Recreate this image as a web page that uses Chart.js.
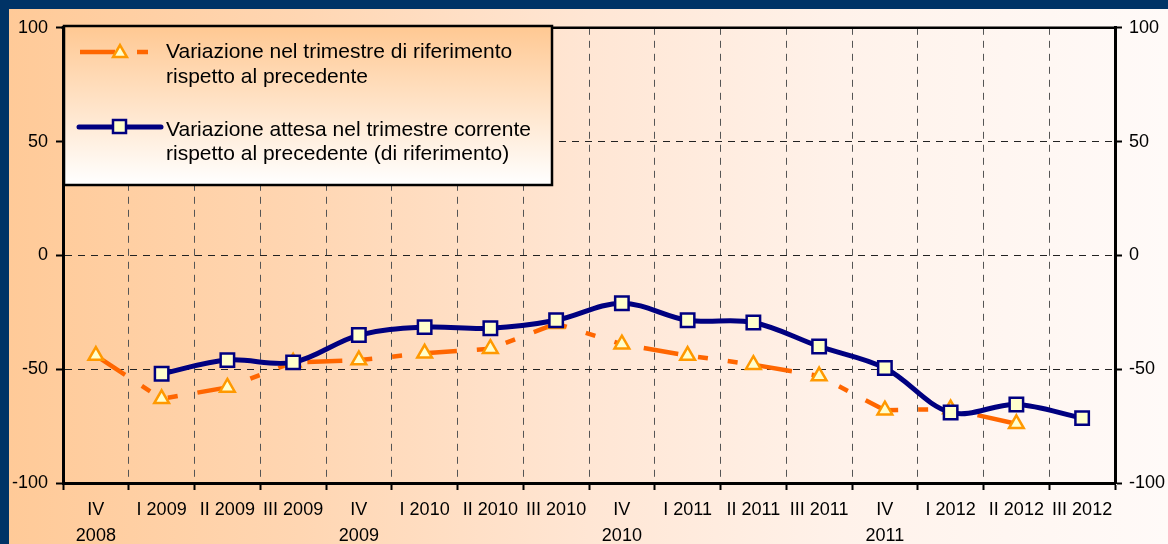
<!DOCTYPE html>
<html lang="it">
<head>
<meta charset="utf-8">
<title>Variazione trimestrale</title>
<script src="https://cdn.jsdelivr.net/npm/chart.js@4.4.1/dist/chart.umd.min.js"></script>
<style>
    html, body { margin: 0; padding: 0; background: #003366; overflow: hidden; }
    .frame {
        position: absolute; left: 9px; top: 9px; width: 1159px; height: 535px;
        background: linear-gradient(to right, #ffca98 0%, #ffd6b2 25%, #ffe6d4 50%, #fff2ea 72%, #fffaf8 100%);
    }
    canvas { display: block; }
</style>
</head>
<body>
<div class="frame"><canvas id="chart" width="1159" height="535"></canvas></div>
<script>
const quarters = [['IV', '2008'], 'I 2009', 'II 2009', 'III 2009', ['IV', '2009'], 'I 2010', 'II 2010', 'III 2010',
    ['IV', '2010'], 'I 2011', 'II 2011', 'III 2011', ['IV', '2011'], 'I 2012', 'II 2012', 'III 2012'];

// Variazione nel trimestre di riferimento (arancione, tratteggiata)
const variazioneRiferimento = [-44, -63, -58, -47, -46, -43, -41, -30, -39, -44, -48, -53, -68, -67.5, -74, null];

// Variazione attesa nel trimestre corrente (blu)
const variazioneAttesa = [null, -52, -46, -47, -35, -31.5, -32, -28.5, -21, -28.5, -29.5, -40, -49.5, -69, -65.5, -71.5];

const yTickValues = [-100, -50, 0, 50, 100];

const legendRiferimento = ['Variazione nel trimestre di riferimento', 'rispetto al precedente'];
const legendAttesa = ['Variazione attesa nel trimestre corrente', 'rispetto al precedente (di riferimento)'];

// plot area inside the canvas
const PLOT = { left: 54, right: 1106, top: 18, bottom: 474 };

Chart.defaults.font.family = "'Liberation Sans', Arial, sans-serif";
Chart.defaults.font.size = 18;
Chart.defaults.color = '#000';

function drawTriangle(ctx, x, y, r) {
    const c = Math.cos(Math.PI / 6) * r;
    ctx.beginPath();
    ctx.moveTo(x, y - r);
    ctx.lineTo(x + c, y + r / 2);
    ctx.lineTo(x - c, y + r / 2);
    ctx.closePath();
}

// top edge of the plot area
const topBorder = {
    id: 'topBorder',
    beforeDatasetsDraw(chart) {
        const { ctx, chartArea } = chart;
        ctx.save();
        ctx.strokeStyle = '#000';
        ctx.lineWidth = 2.5;
        ctx.beginPath();
        ctx.moveTo(chartArea.left - 1.5, chartArea.top);
        ctx.lineTo(chartArea.right + 1.5, chartArea.top);
        ctx.stroke();
        ctx.restore();
    }
};

// boxed legend in the upper left corner
const boxLegend = {
    id: 'boxLegend',
    afterDraw(chart) {
        const ctx = chart.ctx;
        const x0 = 55, y0 = 17, x1 = 543, y1 = 176;
        ctx.save();
        const g = ctx.createLinearGradient(0, y0, 0, y1);
        g.addColorStop(0, '#ffc892');
        g.addColorStop(1, '#ffffff');
        ctx.fillStyle = g;
        ctx.fillRect(x0, y0, x1 - x0, y1 - y0);
        ctx.lineWidth = 2.5;
        ctx.strokeStyle = '#000';
        ctx.strokeRect(x0, y0, x1 - x0, y1 - y0);

        // orange sample
        ctx.strokeStyle = '#ff6600';
        ctx.lineWidth = 4.5;
        ctx.beginPath();
        ctx.moveTo(71, 43); ctx.lineTo(106, 43);
        ctx.moveTo(128, 43); ctx.lineTo(139, 43);
        ctx.stroke();
        drawTriangle(ctx, 111, 44, 8);
        ctx.fillStyle = '#ffffcc';
        ctx.fill();
        ctx.strokeStyle = '#ff9900';
        ctx.lineWidth = 2.5;
        ctx.stroke();

        // blue sample
        ctx.strokeStyle = '#000080';
        ctx.lineWidth = 5;
        ctx.lineCap = 'round';
        ctx.beginPath();
        ctx.moveTo(70, 118); ctx.lineTo(152, 118);
        ctx.stroke();
        ctx.lineCap = 'butt';
        ctx.fillStyle = '#ffffcc';
        ctx.fillRect(104, 111, 13, 13);
        ctx.lineWidth = 2.5;
        ctx.strokeRect(104, 111, 13, 13);

        ctx.fillStyle = '#000';
        ctx.font = "21px 'Liberation Sans', Arial, sans-serif";
        ctx.textBaseline = 'middle';
        ctx.fillText(legendRiferimento[0], 157, 43);
        ctx.fillText(legendRiferimento[1], 157, 68);
        ctx.fillText(legendAttesa[0], 157, 121);
        ctx.fillText(legendAttesa[1], 157, 145);
        ctx.restore();
    }
};

const yAxisCommon = {
    min: -100,
    max: 100,
    afterBuildTicks: scale => { scale.ticks = yTickValues.map(v => ({ value: v })); },
    border: { display: true, color: '#000', width: 3, dash: [7, 6] }
};

new Chart(document.getElementById('chart'), {
    type: 'line',
    data: {
        labels: quarters,
        datasets: [{
            label: legendAttesa.join(' '),
            data: variazioneAttesa,
            borderColor: '#000080',
            borderWidth: 5,
            tension: 0.35,
            pointStyle: 'rect',
            pointRadius: 9.5,
            pointBackgroundColor: '#ffffcc',
            pointBorderColor: '#000080',
            pointBorderWidth: 2.5,
            order: 1
        }, {
            label: legendRiferimento.join(' '),
            data: variazioneRiferimento,
            borderColor: '#ff6600',
            borderWidth: 4.5,
            borderDash: [35, 20, 10, 20, 10, 20],
            tension: 0,
            pointStyle: 'triangle',
            pointRadius: 8.5,
            pointBackgroundColor: '#ffffcc',
            pointBorderColor: '#ff9900',
            pointBorderWidth: 2.5,
            order: 2
        }]
    },
    options: {
        responsive: false,
        animation: false,
        devicePixelRatio: 1,
        events: [],
        layout: { padding: { top: PLOT.top, left: 0, right: 0, bottom: 0 } },
        plugins: { legend: { display: false }, tooltip: { enabled: false } },
        scales: {
            x: {
                offset: true,
                grid: {
                    offset: true,
                    color: '#555',
                    lineWidth: 1,
                    tickLength: 7,
                    tickColor: '#000',
                    tickWidth: 2,
                    tickBorderDash: []
                },
                border: { display: true, color: '#000', width: 3, dash: [7, 6] },
                ticks: {
                    autoSkip: false,
                    maxRotation: 0,
                    padding: 7,
                    font: { size: 18, lineHeight: '26px' }
                },
                afterFit: scale => { scale.height = 535 - PLOT.bottom; }
            },
            y: {
                ...yAxisCommon,
                position: 'left',
                grid: {
                    color: '#222',
                    lineWidth: 1,
                    tickLength: 7,
                    tickColor: '#000',
                    tickWidth: 2,
                    tickBorderDash: []
                },
                ticks: { padding: 8, font: { size: 18 } },
                afterFit: scale => { scale.width = PLOT.left; }
            },
            y2: {
                ...yAxisCommon,
                position: 'right',
                grid: {
                    drawOnChartArea: false,
                    tickLength: 7,
                    tickColor: '#000',
                    tickWidth: 2,
                    tickBorderDash: []
                },
                ticks: { padding: 7, font: { size: 18 } },
                afterFit: scale => { scale.width = 1159 - PLOT.right; }
            }
        }
    },
    plugins: [topBorder, boxLegend]
});
</script>
</body>
</html>
